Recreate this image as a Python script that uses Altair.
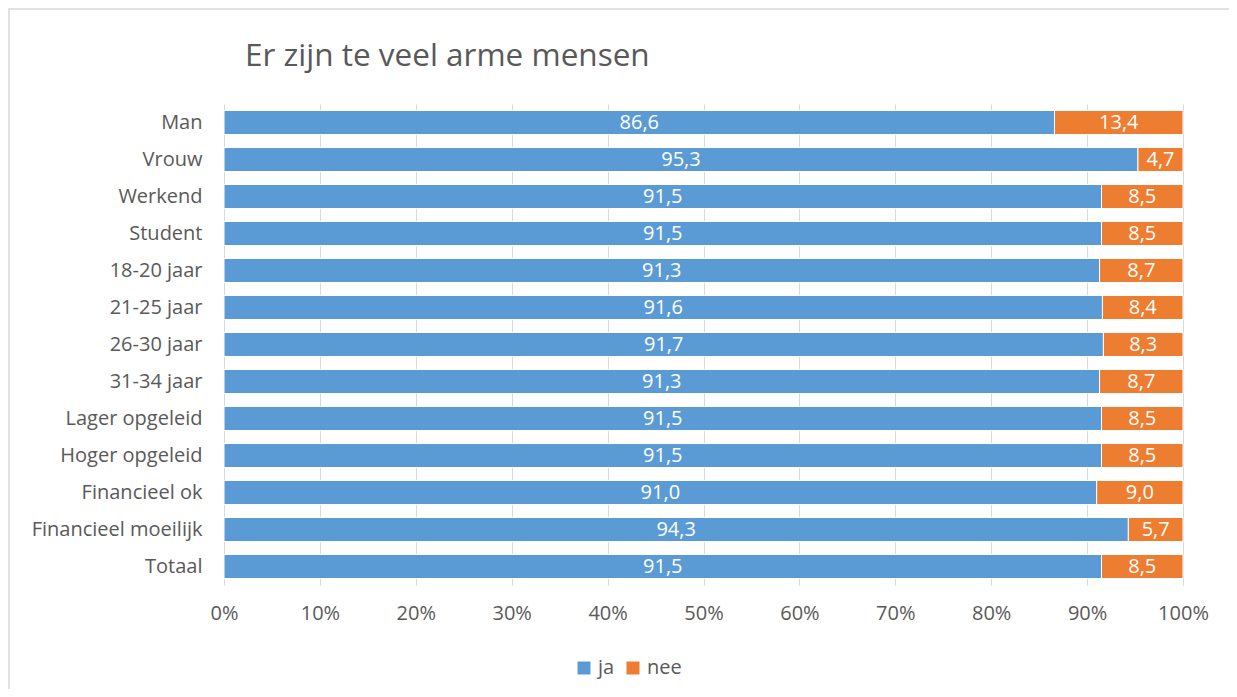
import altair as alt
import pandas as pd

title_text = "Er zijn te veel arme mensen"
categories = ["Man", "Vrouw", "Werkend", "Student", "18-20 jaar", "21-25 jaar",
              "26-30 jaar", "31-34 jaar", "Lager opgeleid", "Hoger opgeleid",
              "Financieel ok", "Financieel moeilijk", "Totaal"]
ja = [86.6, 95.3, 91.5, 91.5, 91.3, 91.6, 91.7, 91.3, 91.5, 91.5, 91.0, 94.3, 91.5]
nee = [13.4, 4.7, 8.5, 8.5, 8.7, 8.4, 8.3, 8.7, 8.5, 8.5, 9.0, 5.7, 8.5]
series = ["ja", "nee"]
colors = ["#5B9BD5", "#ED7D31"]
x_ticks = [0, 10, 20, 30, 40, 50, 60, 70, 80, 90, 100]

rows = []
for c, a, b in zip(categories, ja, nee):
    rows.append({"cat": c, "answer": "ja", "value": a, "ord": 0})
    rows.append({"cat": c, "answer": "nee", "value": b, "ord": 1})
df = pd.DataFrame(rows)

FONT = "Open Sans"
GREY = "#595959"
FS = 20

base = alt.Chart(df)

bars = base.mark_bar(stroke="white", strokeWidth=1).encode(
    y=alt.Y("cat:N", sort=categories, title=None,
            scale=alt.Scale(paddingInner=0.35, paddingOuter=0.175),
            axis=alt.Axis(labelFontSize=FS, labelColor=GREY, labelFont=FONT,
                          labelPadding=22, ticks=False, domain=False, grid=False)),
    x=alt.X("value:Q", stack="zero", title=None,
            scale=alt.Scale(domain=[0, 100], nice=False),
            axis=alt.Axis(values=x_ticks, labelExpr="datum.value + '%'",
                          labelFontSize=FS, labelColor=GREY, labelFont=FONT,
                          labelPadding=18, labelFlush=False, ticks=False, domain=False,
                          grid=True, gridColor="#d9d9d9", gridWidth=1)),
    color=alt.Color("answer:N", scale=alt.Scale(domain=series, range=colors),
                    legend=alt.Legend(title=None, orient="none", direction="horizontal",
                                      legendX=350, legendY=554, symbolType="square",
                                      symbolSize=169, symbolStrokeWidth=0,
                                      labelFontSize=FS, labelColor=GREY, labelFont=FONT,
                                      labelOffset=4, columnPadding=8)),
    order=alt.Order("ord:Q"),
)

labels = base.transform_calculate(
    mid="datum.answer == 'ja' ? datum.value / 2 : 100 - datum.value / 2",
    lab="replace(format(datum.value, '.1f'), '.', ',')",
).mark_text(color="white", fontSize=FS, font=FONT, baseline="middle").encode(
    y=alt.Y("cat:N", sort=categories),
    x=alt.X("mid:Q"),
    text="lab:N",
)

single = alt.Data(values=[{"t": title_text}])

border = alt.Chart(single).mark_rect(
    fill=None, stroke="#d9d9d9", strokeWidth=1.5
).encode(
    x=alt.value(-215), x2=alt.value(1100), y=alt.value(-95), y2=alt.value(700)
)

title = alt.Chart(single).mark_text(
    align="left", baseline="alphabetic", fontSize=31.5, font=FONT, color=GREY
).encode(
    x=alt.value(21), y=alt.value(-38), text="t:N"
)

chart = alt.layer(border, bars, labels, title).properties(
    width=959, height=481,
    autosize=alt.AutoSizeParams(type="none"),
    padding={"left": 216, "top": 96, "right": 46, "bottom": 104},
).configure_view(stroke=None)

chart.save("out.html", embed_options={"renderer": "svg", "actions": False})
